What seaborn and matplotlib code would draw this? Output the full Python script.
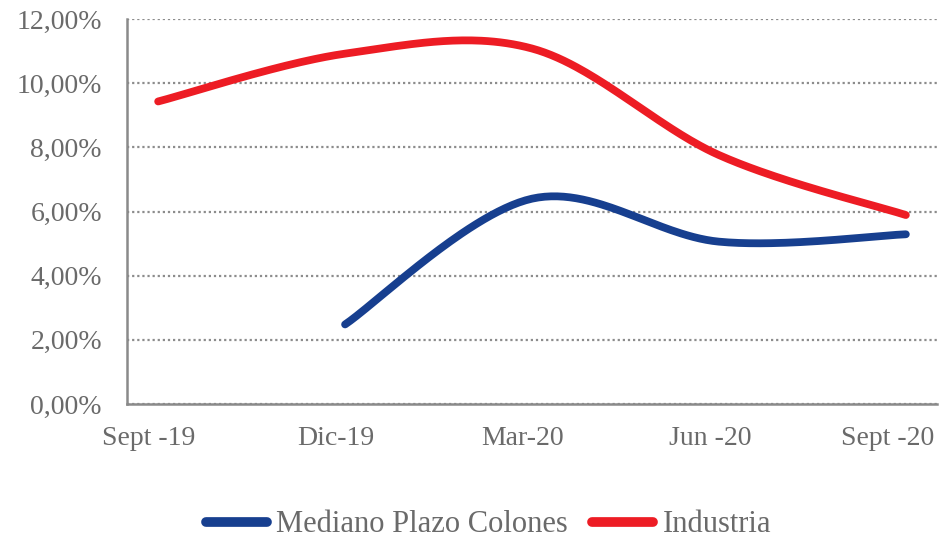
import numpy as np
import pandas as pd
import matplotlib
matplotlib.use("Agg")
import matplotlib.pyplot as plt
import matplotlib.transforms as mtransforms
from matplotlib.ticker import FuncFormatter
import seaborn as sns

# Quarterly rates (%)
fechas = ["2019-09-30", "2019-12-31", "2020-03-31", "2020-06-30", "2020-09-30"]
etiquetas = ["Sept -19", "Dic-19", "Mar-20", "Jun -20", "Sept -20"]
mediano_plazo = [np.nan, 2.48, 6.40, 5.06, 5.29]
industria = [9.43, 10.92, 11.08, 7.76, 5.89]

sns.set_style("white")
plt.rcParams["font.family"] = ["Liberation Serif", "DejaVu Serif"]

GRIS_TEXTO = "#6a6a6a"
GRIS_EJE = "#8a8a8a"
AZUL = "#173f8f"
ROJO = "#ed1c24"

# month index from the first date (monthly date axis)
d = pd.to_datetime(fechas)
meses = np.array((d.year - d.year[0]) * 12 + (d.month - d.month[0]), dtype=float)


def suavizar(x, y, n=60):
    """Catmull-Rom smoothing through the given points (Excel-style smoothed line)."""
    x = np.asarray(x, float)
    y = np.asarray(y, float)
    ok = ~np.isnan(y)
    x, y = x[ok], y[ok]
    px = np.concatenate([[x[0]], x, [x[-1]]])
    py = np.concatenate([[y[0]], y, [y[-1]]])
    xs, ys = [], []
    t = np.linspace(0, 1, n)
    h00 = 2 * t**3 - 3 * t**2 + 1
    h10 = t**3 - 2 * t**2 + t
    h01 = -2 * t**3 + 3 * t**2
    h11 = t**3 - t**2
    for i in range(1, len(px) - 2):
        p0x, p1x, p2x, p3x = px[i - 1:i + 3]
        p0y, p1y, p2y, p3y = py[i - 1:i + 3]
        m1x, m2x = (p2x - p0x) / 2, (p3x - p1x) / 2
        m1y, m2y = (p2y - p0y) / 2, (p3y - p1y) / 2
        xs.append(h00 * p1x + h10 * m1x + h01 * p2x + h11 * m2x)
        ys.append(h00 * p1y + h10 * m1y + h01 * p2y + h11 * m2y)
    return np.concatenate(xs), np.concatenate(ys)


fig = plt.figure(figsize=(9.41, 5.40), dpi=100)
ax = fig.add_axes([127 / 941, 1 - 404 / 540, (937 - 127) / 941, (404 - 19) / 540])

sx, sy = suavizar(meses, mediano_plazo)
sns.lineplot(x=sx, y=sy, sort=False, ax=ax, color=AZUL, lw=5.6,
             solid_capstyle="round", label="Mediano Plazo Colones", zorder=3)
sx, sy = suavizar(meses, industria)
sns.lineplot(x=sx, y=sy, sort=False, ax=ax, color=ROJO, lw=5.6,
             solid_capstyle="round", label="Industria", zorder=3)

ax.set_xlim(meses[0] - 0.5, meses[-1] + 0.5)
ax.set_ylim(0, 12)
ax.set_yticks(np.arange(0, 12.01, 2))
ax.yaxis.set_major_formatter(FuncFormatter(lambda v, p: f"{v:.2f}".replace(".", ",") + "%"))

# tick marks between quarters, labels centred on each quarter
ax.set_xticks(np.arange(meses[0] - 0.5, meses[-1], 3))
ax.set_xticklabels([])
ax.set_xticks(meses, minor=True)
ax.set_xticklabels(etiquetas, minor=True)

ax.tick_params(axis="x", which="major", direction="out", length=7, width=1.8, color=GRIS_EJE)
ax.tick_params(axis="x", which="minor", length=0, pad=16, labelsize=20, labelcolor=GRIS_TEXTO)
ax.tick_params(axis="y", which="major", direction="out", length=7, width=1.8, color=GRIS_EJE,
               pad=11, labelsize=20, labelcolor=GRIS_TEXTO)

labs = ax.get_xticklabels(minor=True)
for i, lab in enumerate(labs):
    dx = -9 if i < len(labs) - 1 else -18
    lab.set_transform(lab.get_transform() + mtransforms.ScaledTranslation(dx / 100, 0, fig.dpi_scale_trans))

ax.yaxis.grid(True, linestyle=(0, (1, 1.3)), color="#8c8c8c", lw=1.6)
ax.xaxis.grid(False)
for s in ("top", "right"):
    ax.spines[s].set_visible(False)
for s in ("left", "bottom"):
    ax.spines[s].set_color(GRIS_EJE)
    ax.spines[s].set_linewidth(1.8)
    ax.spines[s].set_zorder(4)

handles, labels = ax.get_legend_handles_labels()
ax.get_legend().remove()
leg = fig.legend(handles, labels, loc="center", bbox_to_anchor=(0.519, 1 - 525 / 540),
                 ncol=2, frameon=False, fontsize=22, handlelength=2.0, handletextpad=0.3,
                 columnspacing=0.8, labelcolor=GRIS_TEXTO, borderpad=0.2)
for h in leg.legend_handles:
    h.set_linewidth(7)
    h.set_solid_capstyle("round")

fig.savefig("out.png", dpi=100)
